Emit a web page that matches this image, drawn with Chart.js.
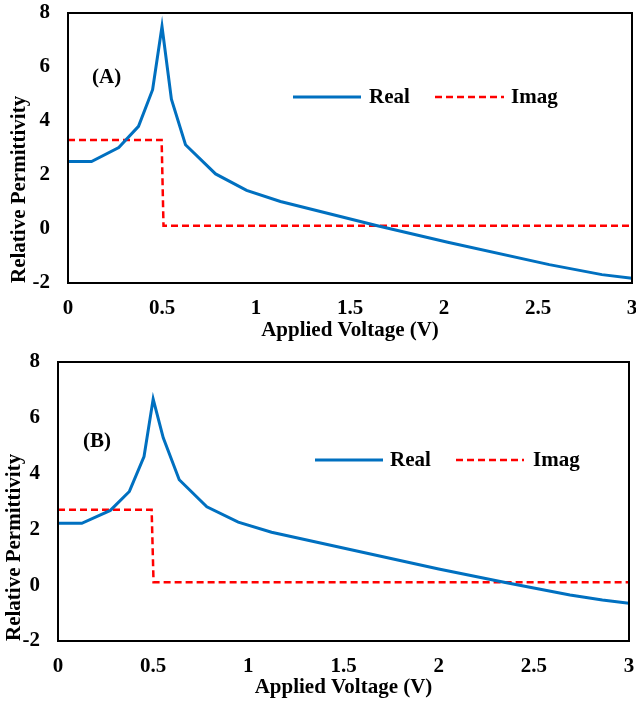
<!DOCTYPE html>
<html>
<head>
<meta charset="utf-8">
<script src="https://cdn.jsdelivr.net/npm/chart.js@4.4.1/dist/chart.umd.min.js"></script>
<style>
  html, body { margin: 0; padding: 0; background: #fff; }
  .wrap { position: absolute; left: 0; width: 636px; }
</style>
</head>
<body>
<div class="wrap" style="top:0;height:350px"><canvas id="chartA" width="636" height="350"></canvas></div>
<div class="wrap" style="top:350px;height:351px"><canvas id="chartB" width="636" height="351"></canvas></div>
<script>
// --- data ---
const xTicks = [0, 0.5, 1, 1.5, 2, 2.5, 3];
const yTicks = [-2, 0, 2, 4, 6, 8];

// panel (A)
const voltRealA = [0, 0.125, 0.27, 0.375, 0.45, 0.5, 0.55, 0.625, 0.785, 0.95, 1.13, 1.64, 2.02, 2.56, 2.84, 3.0];
const realA     = [2.5, 2.5, 3.02, 3.8, 5.16, 7.5, 4.81, 3.12, 2.04, 1.43, 1.02, 0.13, -0.49, -1.32, -1.69, -1.82];
const voltImagA = [0, 0.498, 0.508, 3.0];
const imagA     = [3.3, 3.3, 0.12, 0.12];

// panel (B)
const voltRealB = [0, 0.125, 0.275, 0.375, 0.452, 0.5, 0.553, 0.637, 0.782, 0.947, 1.122, 2.0, 2.35, 2.69, 2.86, 3.0];
const realB     = [2.22, 2.22, 2.68, 3.36, 4.61, 6.67, 5.28, 3.78, 2.81, 2.26, 1.9, 0.58, 0.1, -0.35, -0.53, -0.65];
const voltImagB = [0, 0.492, 0.502, 3.0];
const imagB     = [2.7, 2.7, 0.11, 0.11];

const seriesNames = ['Real', 'Imag'];
const BLUE = '#0070C0';
const RED = '#FF0000';
const FONT = 'Liberation Serif, "Times New Roman", serif';
const FS = 21;

const pts = (xs, ys) => xs.map((x, i) => ({ x, y: ys[i] }));

// frame + panel tag + in-plot legend
const decor = {
  id: 'decor',
  afterDraw(chart, args, o) {
    const { ctx, chartArea: a } = chart;
    ctx.save();
    ctx.strokeStyle = '#000';
    ctx.lineWidth = 2;
    ctx.strokeRect(a.left, a.top, a.right - a.left, a.bottom - a.top);

    ctx.fillStyle = '#000';
    ctx.font = `bold ${FS}px ${FONT}`;
    ctx.textBaseline = 'middle';
    ctx.textAlign = 'left';
    ctx.fillText(o.tag, o.tagX, o.tagY);

    chart.data.datasets.forEach((ds, i) => {
      const it = o.items[i];
      ctx.beginPath();
      ctx.strokeStyle = ds.borderColor;
      ctx.lineWidth = ds.borderWidth;
      ctx.setLineDash(ds.borderDash || []);
      ctx.moveTo(it.x0, o.legY);
      ctx.lineTo(it.x1, o.legY);
      ctx.stroke();
      ctx.setLineDash([]);
      ctx.fillText(ds.label, it.tx, o.legY + 1);
    });
    ctx.restore();
  }
};

// keep tick labels from pushing the plot area around
const noPad = s => { s.paddingTop = 0; s.paddingBottom = 0; s.paddingLeft = 0; s.paddingRight = 0; };

function makeChart(id, realX, realY, imagX, imagY, lay) {
  const font = { family: FONT, size: FS, weight: 'bold' };
  return new Chart(document.getElementById(id), {
    type: 'scatter',
    data: {
      datasets: [
        { label: seriesNames[0], data: pts(realX, realY), showLine: true, borderColor: BLUE, borderWidth: 3, pointRadius: 0, tension: 0 },
        { label: seriesNames[1], data: pts(imagX, imagY), showLine: true, borderColor: RED, borderWidth: 2.5, borderDash: [7, 4], pointRadius: 0, tension: 0 }
      ]
    },
    options: {
      responsive: false,
      animation: false,
      devicePixelRatio: 1,
      layout: { padding: { left: 0, right: lay.right, top: lay.top, bottom: 0 } },
      plugins: {
        legend: { display: false },
        tooltip: { enabled: false },
        decor: lay.decor
      },
      scales: {
        x: {
          type: 'linear', min: 0, max: 3,
          afterBuildTicks: s => { s.ticks = xTicks.map(v => ({ value: v })); },
          afterFit: s => { s.height = lay.xh; noPad(s); },
          grid: { display: false, drawTicks: false },
          border: { display: false },
          ticks: { padding: 13, color: '#000', font, callback: v => String(v) },
          title: { display: true, text: 'Applied Voltage (V)', color: '#000', font, padding: { top: 0, bottom: lay.xtp } }
        },
        y: {
          type: 'linear', min: -2, max: 8,
          afterBuildTicks: s => { s.ticks = yTicks.map(v => ({ value: v })); },
          afterFit: s => { s.width = lay.yw; noPad(s); },
          grid: { display: false, drawTicks: false },
          border: { display: false },
          ticks: { padding: 18, color: '#000', font },
          title: { display: true, align: 'start', text: 'Relative Permittivity', color: '#000', font, padding: { top: lay.ytp, bottom: 0 } }
        }
      }
    },
    plugins: [decor]
  });
}

makeChart('chartA', voltRealA, realA, voltImagA, imagA, {
  top: 13, right: 4, xh: 67, yw: 68, xtp: 7, ytp: 7,
  decor: { tag: '(A)', tagX: 92, tagY: 78, legY: 97,
    items: [{ x0: 293, x1: 361, tx: 369 }, { x0: 435, x1: 504, tx: 511 }] }
});

makeChart('chartB', voltRealB, realB, voltImagB, imagB, {
  top: 12, right: 7, xh: 60, yw: 58, xtp: 1, ytp: 2,
  decor: { tag: '(B)', tagX: 83, tagY: 92, legY: 110,
    items: [{ x0: 315, x1: 383, tx: 390 }, { x0: 456, x1: 524, tx: 533 }] }
});
</script>
</body>
</html>
